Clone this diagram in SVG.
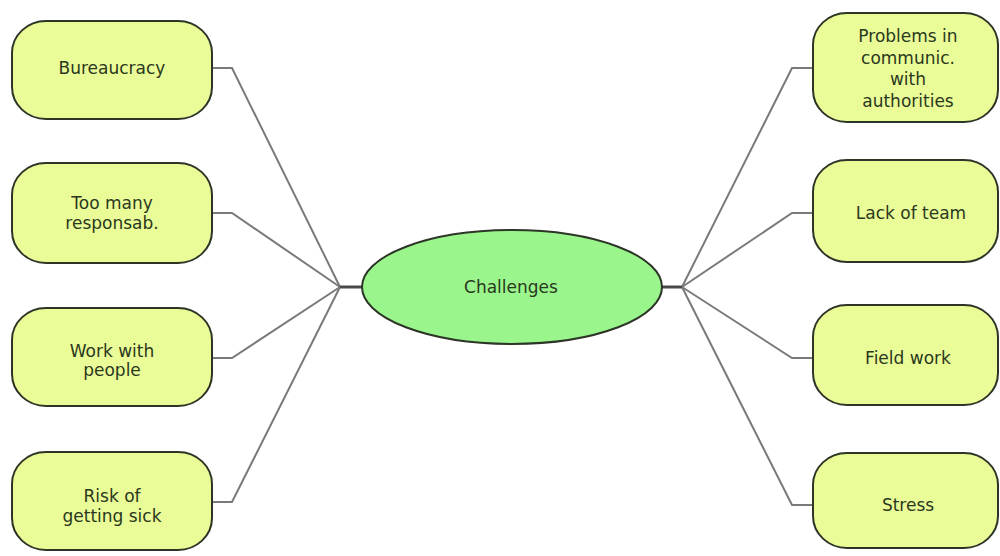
<svg xmlns="http://www.w3.org/2000/svg" width="1000" height="556" viewBox="0 0 1000 556">
  <style>
    .box { fill: #eafc97; stroke: #2c3526; stroke-width: 2; }
    .hub { fill: #9af58c; stroke: #2c3526; stroke-width: 2; }
    .lbl { font-family: "DejaVu Sans", Verdana, sans-serif; font-size: 17px; fill: #2a3820; text-anchor: middle; }
    .wire { fill: none; stroke: #7a7a7a; stroke-width: 2; }
    .stub { fill: none; stroke: #4a4a4a; stroke-width: 3; }
  </style>
  <rect width="1000" height="556" fill="#fff"/>

  <!-- connectors -->
  <g id="connectors">
    <polyline class="wire" points="212,68 232,68 340,287"/>
    <polyline class="wire" points="212,213 232,213 340,287"/>
    <polyline class="wire" points="212,358 232,358 340,287"/>
    <polyline class="wire" points="212,502 232,502 340,287"/>
    <line class="stub" x1="340" y1="287" x2="363" y2="287"/>
    <polyline class="wire" points="682,287 792,68 813,68"/>
    <polyline class="wire" points="682,287 792,213 813,213"/>
    <polyline class="wire" points="682,287 792,358 813,358"/>
    <polyline class="wire" points="682,287 792,505 813,505"/>
    <line class="stub" x1="661" y1="287" x2="682" y2="287"/>
  </g>

  <!-- central node -->
  <g id="challenges">
    <ellipse class="hub" cx="512" cy="287" rx="150" ry="57"/>
    <text class="lbl" x="511" y="293">Challenges</text>
  </g>

  <!-- left branch -->
  <g id="bureaucracy">
    <rect class="box" x="12" y="21" width="200" height="98" rx="34" ry="32"/>
    <text class="lbl" x="112" y="74">Bureaucracy</text>
  </g>
  <g id="too-many">
    <rect class="box" x="12" y="163" width="200" height="100" rx="34" ry="32"/>
    <text class="lbl" x="112" y="209">Too many</text>
    <text class="lbl" x="112" y="229">responsab.</text>
  </g>
  <g id="work-people">
    <rect class="box" x="12" y="308" width="200" height="98" rx="34" ry="32"/>
    <text class="lbl" x="112" y="357">Work with</text>
    <text class="lbl" x="112" y="376">people</text>
  </g>
  <g id="risk-sick">
    <rect class="box" x="12" y="452" width="200" height="98" rx="34" ry="32"/>
    <text class="lbl" x="112" y="502">Risk of</text>
    <text class="lbl" x="112" y="522">getting sick</text>
  </g>

  <!-- right branch -->
  <g id="problems-communic">
    <rect class="box" x="813" y="13" width="185" height="109" rx="34" ry="32"/>
    <text class="lbl" x="908" y="42">Problems in</text>
    <text class="lbl" x="908" y="64">communic.</text>
    <text class="lbl" x="908" y="85">with</text>
    <text class="lbl" x="908" y="107">authorities</text>
  </g>
  <g id="lack-team">
    <rect class="box" x="813" y="160" width="185" height="102" rx="34" ry="32"/>
    <text class="lbl" x="911" y="219">Lack of team</text>
  </g>
  <g id="field-work">
    <rect class="box" x="813" y="305" width="185" height="100" rx="34" ry="32"/>
    <text class="lbl" x="908" y="364">Field work</text>
  </g>
  <g id="stress">
    <rect class="box" x="813" y="453" width="185" height="95" rx="34" ry="32"/>
    <text class="lbl" x="908" y="511">Stress</text>
  </g>
</svg>
